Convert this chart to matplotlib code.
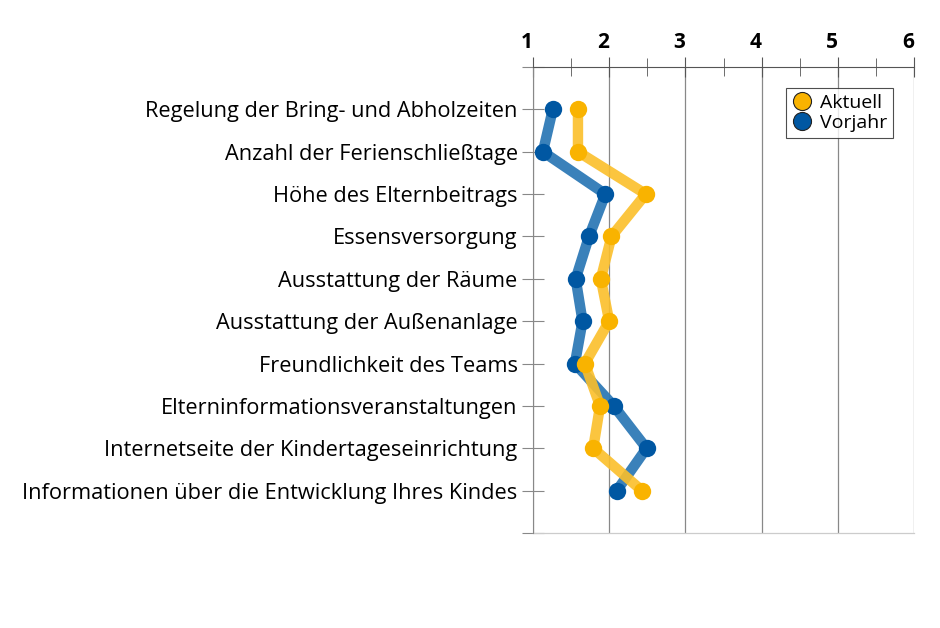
import matplotlib
matplotlib.use("Agg")
import matplotlib.pyplot as plt
import numpy as np

plt.rcParams['font.family'] = ['Open Sans', 'DejaVu Sans']

categories = [
    "Regelung der Bring- und Abholzeiten",
    "Anzahl der Ferienschließtage",
    "Höhe des Elternbeitrags",
    "Essensversorgung",
    "Ausstattung der Räume",
    "Ausstattung der Außenanlage",
    "Freundlichkeit des Teams",
    "Elterninformationsveranstaltungen",
    "Internetseite der Kindertageseinrichtung",
    "Informationen über die Entwicklung Ihres Kindes",
]
aktuell = [1.59, 1.59, 2.48, 2.03, 1.89, 2.00, 1.68, 1.88, 1.79, 2.43]
vorjahr = [1.26, 1.13, 1.95, 1.735, 1.56, 1.65, 1.55, 2.06, 2.49, 2.10]
x_ticks = [1, 2, 3, 4, 5, 6]

fig = plt.figure(figsize=(9.4, 6.28), dpi=100)
ax = fig.add_axes([533 / 940, 1 - 533 / 628, 381 / 940, 466 / 628])

y = np.arange(len(categories))

# lines first, then markers on top
ax.plot(vorjahr, y, color='#2f7ab7', lw=7.5, alpha=0.95, zorder=2,
        solid_capstyle='butt')
ax.plot(aktuell, y, color='#fbbf2a', lw=7.5, alpha=0.9, zorder=3,
        solid_capstyle='butt')
ax.plot(vorjahr, y, 'o', color='#0057a2', ms=12.5, mec='none', zorder=4)
ax.plot(aktuell, y, 'o', color='#f9b300', ms=12.5, mec='none', zorder=5)

ax.set_xlim(1, 6)
ax.set_ylim(len(categories), -1)

ax.xaxis.tick_top()
ax.set_xticks(x_ticks)
ax.set_xticks(np.arange(1.5, 6, 1), minor=True)
# labels sit a little left of their gridlines in the original
ax.set_xticklabels([str(t) for t in x_ticks], fontweight='bold', fontsize=15,
                   ha='right')
ax.tick_params(axis='x', which='major', direction='inout', length=14,
               color='#555555', pad=3)
ax.tick_params(axis='x', which='minor', direction='inout', length=13,
               color='#555555')
ax.grid(axis='x', color='#888888', lw=0.9)

ax.set_yticks([-1] + list(y) + [len(categories)])
ax.set_yticklabels([''] + categories + [''], fontsize=15.7)
ax.tick_params(axis='y', direction='inout', length=16, color='#888888', pad=3)
ax.get_yticklines()[0].set_color('#555555')
ax.get_yticklines()[-2].set_color('#333333')

for side in ['right', 'bottom']:
    ax.spines[side].set_visible(False)
ax.spines['top'].set_color('#555555')
ax.spines['left'].set_color('#888888')
ax.axhline(len(categories), color='#cccccc', lw=0.9, clip_on=False)

h1 = plt.Line2D([], [], marker='o', ls='none', color='#f9b300', mec='#222222',
                mew=0.8, ms=13)
h2 = plt.Line2D([], [], marker='o', ls='none', color='#0057a2', mec='#222222',
                mew=0.8, ms=13)
leg = ax.legend([h1, h2], ['Aktuell', 'Vorjahr'], loc='upper right',
                bbox_to_anchor=(0.945, 0.955), fontsize=14, frameon=True,
                fancybox=False, handletextpad=0.35, borderpad=0.3,
                labelspacing=0.12, handlelength=1.1, borderaxespad=0)
leg.get_frame().set_edgecolor('#222222')
leg.get_frame().set_linewidth(0.8)

fig.savefig('out.png', dpi=100)
